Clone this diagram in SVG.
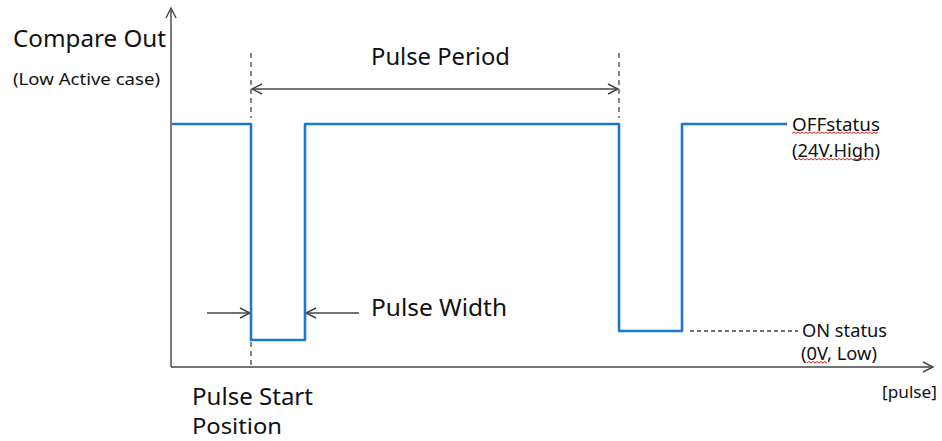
<svg xmlns="http://www.w3.org/2000/svg" width="942" height="441" viewBox="0 0 942 441">
<style>
text{font-family:"Noto Sans","Open Sans","DejaVu Sans",sans-serif;fill:#111;}
.ax{stroke:#444;stroke-width:1.4;fill:none;}
.dash{stroke:#444;stroke-width:1.3;stroke-dasharray:5,4;fill:none;}
.sig{stroke:#1a7ad0;stroke-width:2.6;fill:none;stroke-linejoin:round;}
.head{stroke:#444;stroke-width:1.4;fill:none;}
.sq{stroke:#e02020;stroke-width:1;fill:none;}
</style>
<defs>
<marker id="arr" markerWidth="14" markerHeight="14" refX="11" refY="6" orient="auto" markerUnits="userSpaceOnUse">
<path d="M1,1 L11,6 L1,11" class="head"/>
</marker>
</defs>
<rect width="942" height="441" fill="#fff"/>
<g id="connectors">
<line id="y-axis" class="ax" x1="171" y1="367" x2="171" y2="8" marker-end="url(#arr)"/>
<line id="x-axis" class="ax" x1="171" y1="367" x2="933" y2="367" marker-end="url(#arr)"/>
<line class="dash" x1="251" y1="53" x2="251" y2="118"/>
<line class="dash" x1="251" y1="342" x2="251" y2="366"/>
<line class="dash" x1="619" y1="53" x2="619" y2="118"/>
<line class="dash" x1="690" y1="331" x2="798" y2="331" style="stroke-dasharray:4,3"/>
<line id="period-arrow" class="ax" x1="435" y1="89" x2="252" y2="89" marker-end="url(#arr)"/>
<line class="ax" x1="435" y1="89" x2="618" y2="89" marker-end="url(#arr)"/>
<line id="width-left" class="ax" x1="207" y1="313" x2="250" y2="313" marker-end="url(#arr)"/>
<line id="width-right" class="ax" x1="359" y1="313" x2="306" y2="313" marker-end="url(#arr)"/>
</g>
<g id="signal">
<polyline class="sig" points="172,124 251,124 251,340 305,340 305,124 619,124 619,331 682,331 682,124 787,124"/>
</g>
<g id="labels">
<text x="13" y="47" font-size="23.5" textLength="153" lengthAdjust="spacingAndGlyphs">Compare Out</text>
<text x="13" y="85" font-size="16" textLength="147" lengthAdjust="spacingAndGlyphs">(Low Active case)</text>
<text x="371" y="65" font-size="23" textLength="139" lengthAdjust="spacingAndGlyphs">Pulse Period</text>
<text x="371" y="316" font-size="23" textLength="136" lengthAdjust="spacingAndGlyphs">Pulse Width</text>
<text x="192" y="405" font-size="23" textLength="121" lengthAdjust="spacingAndGlyphs">Pulse Start</text>
<text x="192" y="434" font-size="22" textLength="90" lengthAdjust="spacingAndGlyphs">Position</text>
<text x="792" y="131" font-size="18.5" textLength="88" lengthAdjust="spacingAndGlyphs">OFFstatus</text>
<text x="792" y="157" font-size="18" textLength="88" lengthAdjust="spacingAndGlyphs">(24V.High)</text>
<text x="802" y="337" font-size="18.5" textLength="85" lengthAdjust="spacingAndGlyphs">ON status</text>
<text x="801" y="360" font-size="18" textLength="76" lengthAdjust="spacingAndGlyphs">(0V, Low)</text>
<text x="882" y="398" font-size="16.5" textLength="55" lengthAdjust="spacingAndGlyphs">[pulse]</text>
<path class="sq" d="M792,133.5 l2,-1.5 l2,1.5 l2,-1.5 l2,1.5 l2,-1.5 l2,1.5 l2,-1.5 l2,1.5 l2,-1.5 l2,1.5 l2,-1.5 l2,1.5 l2,-1.5 l2,1.5 l2,-1.5 l2,1.5 l2,-1.5 l2,1.5 l2,-1.5 l2,1.5 l2,-1.5 l2,1.5 l2,-1.5 l2,1.5 l2,-1.5 l2,1.5 l2,-1.5 l2,1.5 l2,-1.5 l2,1.5 l2,-1.5 l2,1.5 l2,-1.5 l2,1.5 l2,-1.5 l2,1.5 l2,-1.5 l2,1.5 l2,-1.5 l2,1.5 l2,-1.5 l2,1.5 l2,-1.5"/>
<path class="sq" d="M797,160 l2,-1.5 l2,1.5 l2,-1.5 l2,1.5 l2,-1.5 l2,1.5 l2,-1.5 l2,1.5 l2,-1.5 l2,1.5 l2,-1.5 l2,1.5 l2,-1.5 l2,1.5 l2,-1.5 l2,1.5 l2,-1.5 l2,1.5 l2,-1.5 l2,1.5 l2,-1.5 l2,1.5 l2,-1.5 l2,1.5 l2,-1.5 l2,1.5 l2,-1.5 l2,1.5 l2,-1.5 l2,1.5 l2,-1.5 l2,1.5 l2,-1.5 l2,1.5 l2,-1.5 l2,1.5 l2,-1.5 l2,1.5"/>
<path class="sq" d="M807,363 l2,-1.5 l2,1.5 l2,-1.5 l2,1.5 l2,-1.5 l2,1.5 l2,-1.5 l2,1.5 l2,-1.5 l2,1.5"/>
</g>
</svg>
